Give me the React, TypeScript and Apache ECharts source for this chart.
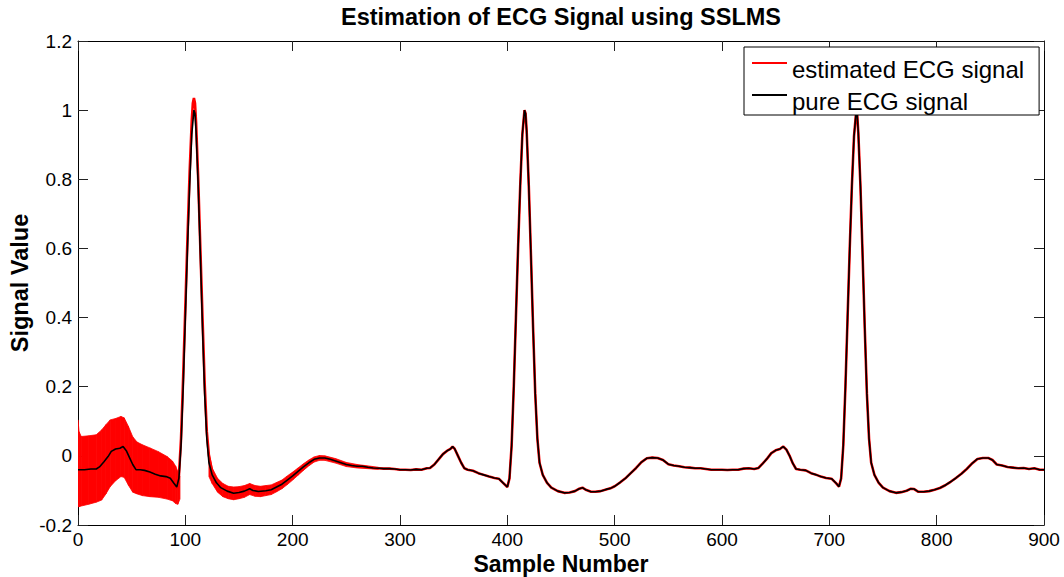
import React, { useEffect, useRef } from "react";
import * as echarts from "echarts";

const TITLE = "Estimation of ECG Signal using SSLMS";
const X_NAME = "Sample Number";
const Y_NAME = "Signal Value";
const EST_NAME = "estimated ECG signal";
const PURE_NAME = "pure ECG signal";

// pure ECG signal (sample, value)
const pureECG: [number, number][] = [
  [0,-0.040],[6,-0.040],[12,-0.038],[17,-0.038],[20,-0.032],[24,-0.018],[28,-0.002],[31,0.013],[35,0.020],[39,0.022],[42,0.027],[45,0.015],[48,-0.005],[51,-0.025],[54,-0.040],[58,-0.040],[62,-0.042],[67,-0.047],[72,-0.053],[77,-0.058],[82,-0.060],[86,-0.065],[89,-0.078],[92,-0.090],
  [94,-0.065],[96,0.030],[98,0.200],[100,0.400],[102,0.600],[104,0.780],[106,0.930],[108,1.000],[109,0.990],[110,0.940],[112,0.780],[114,0.580],[116,0.370],[118,0.180],[120,0.050],[122,-0.020],[125,-0.055],[129,-0.078],[133,-0.092],[139,-0.102],[145,-0.108],[150,-0.106],[155,-0.102],[160,-0.095],[163,-0.100],[168,-0.103],[175,-0.101],[180,-0.098],[185,-0.090],[190,-0.082],[195,-0.070],[200,-0.058],[205,-0.045],[210,-0.032],[215,-0.020],[220,-0.010],[225,-0.006],[230,-0.006],[235,-0.010],[240,-0.015],[245,-0.020],[250,-0.025],[255,-0.028],[260,-0.030],[265,-0.030],[270,-0.033],[275,-0.035],[280,-0.036],[285,-0.037],[290,-0.037],[295,-0.038],[300,-0.040],
  [305,-0.040],[310,-0.041],[315,-0.039],[320,-0.040],[325,-0.036],[328,-0.035],[332,-0.025],[336,-0.010],[340,0.005],[344,0.015],[347,0.020],[349,0.027],[351,0.020],[354,0.000],[357,-0.020],[360,-0.036],[363,-0.040],[368,-0.043],[373,-0.050],[378,-0.055],[383,-0.060],[388,-0.064],[392,-0.066],[396,-0.078],[400,-0.090],
  [402,-0.065],[404,0.030],[406,0.200],[408,0.400],[410,0.600],[412,0.780],[414,0.930],[416,1.000],[417,0.990],[418,0.940],[420,0.780],[422,0.580],[424,0.370],[426,0.180],[428,0.050],[430,-0.020],[433,-0.055],[437,-0.078],[441,-0.092],[447,-0.102],[453,-0.107],[458,-0.106],[463,-0.102],[467,-0.095],[470,-0.092],[473,-0.098],[478,-0.104],[482,-0.104],[487,-0.102],[492,-0.097],[496,-0.094],[500,-0.088],[505,-0.077],[510,-0.065],[515,-0.050],[520,-0.035],[525,-0.018],[530,-0.007],[535,-0.005],[540,-0.006],[545,-0.012],[550,-0.024],[555,-0.028],[560,-0.030],[565,-0.033],[570,-0.034],[575,-0.036],[580,-0.036],[585,-0.038],[590,-0.040],[595,-0.040],[600,-0.040],[605,-0.041],[610,-0.040],[615,-0.040],[620,-0.037],[625,-0.036],[630,-0.038],[634,-0.035],[638,-0.022],[642,-0.008],[646,0.008],[650,0.016],[654,0.020],[657,0.027],[660,0.018],[663,0.000],[666,-0.022],[669,-0.038],[673,-0.040],[678,-0.042],[683,-0.050],[688,-0.055],[692,-0.060],[697,-0.064],[702,-0.066],[706,-0.078],[709,-0.089],
  [711,-0.065],[713,0.030],[715,0.200],[717,0.400],[719,0.600],[721,0.780],[723,0.925],[725,0.995],[726,0.985],[727,0.935],[729,0.780],[731,0.580],[733,0.370],[735,0.180],[737,0.050],[739,-0.020],[742,-0.055],[746,-0.078],[750,-0.092],[756,-0.102],[762,-0.107],[767,-0.105],[772,-0.101],[776,-0.095],[779,-0.096],[783,-0.104],[788,-0.104],[793,-0.102],[798,-0.098],[803,-0.093],[808,-0.085],[813,-0.075],[818,-0.064],[823,-0.052],[828,-0.038],[833,-0.022],[838,-0.009],[843,-0.006],[848,-0.006],[852,-0.012],[856,-0.025],[861,-0.028],[866,-0.032],[871,-0.034],[876,-0.036],[881,-0.035],[886,-0.038],[891,-0.036],[896,-0.040],[900,-0.040],
];

// estimated signal around the first QRS spike (overshoot)
const estimatedSpike: [number, number][] = [
  [92,-0.095],[94,-0.060],[96,0.050],[98,0.230],[100,0.430],[102,0.630],[104,0.820],[106,0.970],[107,1.020],[108,1.035],[109,1.020],[110,0.965],[112,0.800],[114,0.600],[116,0.400],[118,0.210],[120,0.070],[122,0.000],[125,-0.045],
];

// noise envelope of the estimated signal before convergence
const noiseEarlyX = [0, 1, 3, 10, 17, 22, 26, 30, 35, 40, 43, 47, 51, 55, 60, 67, 75, 83, 88, 91, 93, 95];
const noiseEarlyHi = [0.104, 0.07, 0.056, 0.058, 0.061, 0.075, 0.09, 0.104, 0.108, 0.114, 0.11, 0.085, 0.055, 0.04, 0.032, 0.023, 0.012, -0.002, -0.015, -0.03, -0.045, -0.06];
const noiseEarlyLo = [-0.147, -0.147, -0.145, -0.14, -0.134, -0.128, -0.11, -0.089, -0.072, -0.06, -0.062, -0.085, -0.105, -0.11, -0.115, -0.118, -0.12, -0.125, -0.13, -0.138, -0.14, -0.125];

const noiseLateX = [122, 125, 130, 135, 140, 145, 150, 155, 160, 165, 170, 175, 180, 185, 190, 195, 200, 205, 210, 215, 220, 225, 230, 240, 250, 260, 270, 280];
const noiseLateHi = [0.01, -0.035, -0.065, -0.08, -0.088, -0.09, -0.089, -0.086, -0.08, -0.086, -0.088, -0.086, -0.084, -0.077, -0.07, -0.058, -0.047, -0.035, -0.023, -0.012, -0.003, 0.001, 0.0, -0.008, -0.019, -0.025, -0.029, -0.033];
const noiseLateLo = [-0.06, -0.08, -0.105, -0.118, -0.124, -0.127, -0.124, -0.12, -0.112, -0.117, -0.118, -0.115, -0.112, -0.104, -0.095, -0.083, -0.07, -0.056, -0.042, -0.029, -0.018, -0.013, -0.013, -0.021, -0.031, -0.035, -0.037, -0.039];

const FONT = "'Liberation Sans', Arial, Helvetica, sans-serif";
// legend line drawn at the top of a 35x14 icon box
const LEGEND_ICON = "path://M0,0L35,0L35,2L0,2Z M35,14L35,14";

function bandSeries(xs: number[], hi: number[], lo: number[]) {
  return {
    type: "custom",
    silent: true,
    z: 2,
    clip: true,
    data: xs.map((x, i) => [x, lo[i], hi[i]]),
    encode: { x: 0, y: [1, 2] },
    renderItem: (params: any, api: any) => {
      const i = params.dataIndex;
      if (i >= xs.length - 1) return { type: "group", children: [] };
      const a = api.coord([xs[i], lo[i]]);
      const b = api.coord([xs[i], hi[i]]);
      const c = api.coord([xs[i + 1], hi[i + 1]]);
      const d = api.coord([xs[i + 1], lo[i + 1]]);
      return {
        type: "polygon",
        shape: { points: [a, b, c, d] },
        style: { fill: "#ff0000", stroke: "#ff0000", lineWidth: 0.8 },
      };
    },
  };
}

export default function App() {
  const ref = useRef<HTMLDivElement>(null);
  useEffect(() => {
    if (!ref.current) return;
    const chart = echarts.init(ref.current, undefined, { renderer: "svg" });
    const estimated = pureECG
      .filter((p) => p[0] < 92)
      .concat(estimatedSpike)
      .concat(pureECG.filter((p) => p[0] > 125));
    const axisCommon = {
      axisLine: { show: true, onZero: false, lineStyle: { color: "#000", width: 1 } },
      axisTick: { show: true, inside: true, length: 10, lineStyle: { color: "#222", width: 1 } },
      splitLine: { show: false },
    };
    chart.setOption({
      animation: false,
      backgroundColor: "#fff",
      title: {
        text: TITLE,
        left: 561,
        textAlign: "center",
        top: 5,
        padding: 0,
        textStyle: { fontSize: 23.5, fontWeight: "bold", color: "#000", fontFamily: FONT, lineHeight: 23.5 },
      },
      grid: { left: 78, right: 20, top: 41, bottom: 52, containLabel: false, outerBoundsMode: "none" },
      legend: {
        data: [EST_NAME, PURE_NAME],
        orient: "vertical",
        left: 744,
        top: 47,
        padding: [10, 15, 2, 8],
        itemWidth: 35,
        itemHeight: 14,
        itemGap: 8,
        icon: LEGEND_ICON,
        backgroundColor: "#fff",
        borderColor: "#000",
        borderWidth: 1,
        borderRadius: 0,
        selectedMode: false,
        z: 10,
        textStyle: { fontSize: 24, color: "#000", fontFamily: FONT, lineHeight: 24 },
      },
      xAxis: [
        {
          type: "value",
          position: "bottom",
          min: 0,
          max: 900,
          interval: 100,
          name: X_NAME,
          nameLocation: "middle",
          nameGap: 30,
          nameMoveOverlap: false,
          nameTextStyle: { fontSize: 23, fontWeight: "bold", color: "#000", fontFamily: FONT, lineHeight: 18 },
          axisLabel: { fontSize: 19, color: "#000", fontFamily: FONT, margin: 5, lineHeight: 19 },
          ...axisCommon,
        },
        {
          type: "value",
          position: "top",
          min: 0,
          max: 900,
          interval: 100,
          axisLabel: { show: false },
          ...axisCommon,
        },
      ],
      yAxis: [
        {
          type: "value",
          position: "left",
          min: -0.2,
          max: 1.2,
          interval: 0.2,
          name: Y_NAME,
          nameLocation: "middle",
          nameGap: 46,
          nameRotate: 90,
          nameMoveOverlap: false,
          nameTextStyle: { fontSize: 23.5, fontWeight: "bold", color: "#000", fontFamily: FONT, lineHeight: 23.5 },
          axisLabel: { fontSize: 19, color: "#000", fontFamily: FONT, margin: 6 },
          ...axisCommon,
        },
        {
          type: "value",
          position: "right",
          min: -0.2,
          max: 1.2,
          interval: 0.2,
          axisLabel: { show: false },
          ...axisCommon,
        },
      ],
      series: [
        bandSeries(noiseEarlyX, noiseEarlyHi, noiseEarlyLo),
        bandSeries(noiseLateX, noiseLateHi, noiseLateLo),
        {
          type: "line",
          name: EST_NAME,
          data: estimated,
          showSymbol: false,
          symbol: "none",
          z: 3,
          itemStyle: { color: "#ff0000" },
          lineStyle: { color: "#ff0000", width: 2.6 },
        },
        {
          type: "line",
          name: PURE_NAME,
          data: pureECG,
          showSymbol: false,
          symbol: "none",
          z: 4,
          itemStyle: { color: "#000" },
          lineStyle: { color: "#000", width: 1.6 },
        },
      ],
    });
    return () => chart.dispose();
  }, []);
  return (
    <div
      ref={ref}
      style={{ position: "absolute", left: 0, top: 0, width: 1064, height: 577 }}
    />
  );
}
